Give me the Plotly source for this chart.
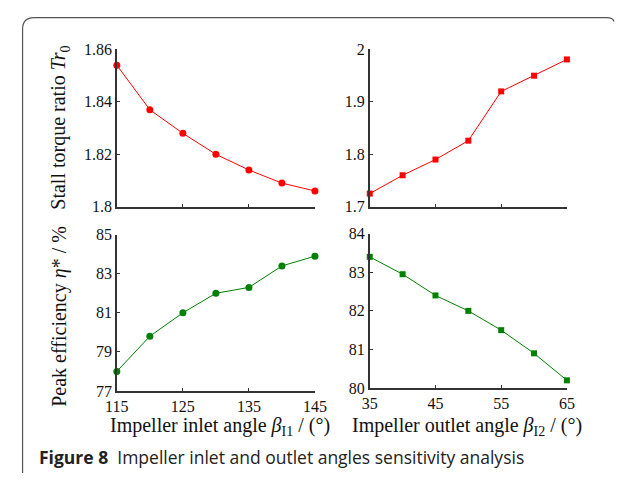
import plotly.graph_objects as go

# ---- data ----
inlet_angle = [115, 120, 125, 130, 135, 140, 145]
outlet_angle = [35, 40, 45, 50, 55, 60, 65]
torque_inlet = [1.854, 1.837, 1.828, 1.820, 1.814, 1.809, 1.806]
torque_outlet = [1.725, 1.760, 1.790, 1.826, 1.920, 1.950, 1.981]
eff_inlet = [78.0, 79.8, 81.0, 82.0, 82.3, 83.4, 83.9]
eff_outlet = [83.4, 82.95, 82.4, 82.0, 81.5, 80.9, 80.2]

inlet_ticks = [115, 125, 135, 145]
outlet_ticks = [35, 45, 55, 65]
torque_inlet_ticks = [1.80, 1.82, 1.84, 1.86]
torque_outlet_ticks = [1.7, 1.8, 1.9, 2.0]
eff_inlet_ticks = [77, 79, 81, 83, 85]
eff_outlet_ticks = [80, 81, 82, 83, 84]

W, H = 627, 480
RED = "#ff0000"
GREEN = "#008000"
SERIF = "Liberation Serif, Times New Roman, serif"


def px(x):
    return x / W


def py(y):
    return 1 - y / H


fig = go.Figure()

fig.add_trace(go.Scatter(x=inlet_angle, y=torque_inlet, mode="lines+markers",
                         line=dict(color=RED, width=1),
                         marker=dict(symbol="circle", size=7, color=RED),
                         cliponaxis=False, xaxis="x", yaxis="y"))
fig.add_trace(go.Scatter(x=outlet_angle, y=torque_outlet, mode="lines+markers",
                         line=dict(color=RED, width=1),
                         marker=dict(symbol="square", size=6, color=RED),
                         cliponaxis=False, xaxis="x2", yaxis="y2"))
fig.add_trace(go.Scatter(x=inlet_angle, y=eff_inlet, mode="lines+markers",
                         line=dict(color=GREEN, width=1),
                         marker=dict(symbol="circle", size=7, color=GREEN),
                         cliponaxis=False, xaxis="x3", yaxis="y3"))
fig.add_trace(go.Scatter(x=outlet_angle, y=eff_outlet, mode="lines+markers",
                         line=dict(color=GREEN, width=1),
                         marker=dict(symbol="square", size=6, color=GREEN),
                         cliponaxis=False, xaxis="x4", yaxis="y4"))

axis_common = dict(showgrid=False, zeroline=False, showline=True,
                   linecolor="#333333", linewidth=1.5, ticks="inside",
                   ticklen=3, tickwidth=1.2, tickcolor="#333333",
                   tickfont=dict(family=SERIF, size=16, color="#111111"),
                   fixedrange=True)

xl = [px(109), px(315)]
xr = [px(372), px(577)]
ytop = [py(206), py(43)]
ybl = [py(397), py(235)]
ybr = [py(394), py(234)]

fig.update_layout(
    width=W, height=H,
    margin=dict(l=0, r=0, t=0, b=0),
    paper_bgcolor="white", plot_bgcolor="white",
    showlegend=False,
    xaxis=dict(axis_common, domain=xl, range=[115, 145], tickvals=inlet_ticks,
               showticklabels=False, anchor="y"),
    yaxis=dict(axis_common, domain=ytop, range=[1.80, 1.86],
               tickvals=torque_inlet_ticks,
               ticktext=["1.8", "1.82", "1.84", "1.86"], anchor="x"),
    xaxis2=dict(axis_common, domain=xr, range=[35, 65], tickvals=outlet_ticks,
                showticklabels=False, anchor="y2"),
    yaxis2=dict(axis_common, domain=ytop, range=[1.7, 2.0],
                tickvals=torque_outlet_ticks,
                ticktext=["1.7", "1.8", "1.9", "2"], anchor="x2"),
    xaxis3=dict(axis_common, domain=xl, range=[115, 145], tickvals=inlet_ticks,
                anchor="y3"),
    yaxis3=dict(axis_common, domain=ybl, range=[77, 85],
                tickvals=eff_inlet_ticks, anchor="x3"),
    xaxis4=dict(axis_common, domain=xr, range=[35, 65], tickvals=outlet_ticks,
                anchor="y4"),
    yaxis4=dict(axis_common, domain=ybr, range=[80, 84],
                tickvals=eff_outlet_ticks, anchor="x4"),
)

title_font = dict(family=SERIF, size=20, color="#111111")
ann = [
    dict(x=px(50), y=py(124), text="Stall torque ratio <i>Tr</i><sub>0</sub>",
         textangle=-90),
    dict(x=px(50), y=py(320), text="Peak efficiency <i>η</i>* / %",
         textangle=-90),
    dict(x=px(216), y=py(434), text="Impeller inlet angle <i>β</i><sub>I1</sub> / (°)"),
    dict(x=px(473), y=py(434), text="Impeller outlet angle <i>β</i><sub>I2</sub> / (°)"),
]
for a in ann:
    fig.add_annotation(xref="paper", yref="paper", showarrow=False,
                       xanchor="center", yanchor="middle", font=title_font, **a)

fig.add_annotation(xref="paper", yref="paper", showarrow=False,
                   x=px(26), y=py(465), xanchor="left", yanchor="middle",
                   text="<b>Figure 8</b>\u00a0\u00a0Impeller inlet and outlet angles sensitivity analysis",
                   font=dict(family="Open Sans", size=17.5, color="#222222"))

# rounded frame
fig.add_shape(type="path", xref="paper", yref="paper",
              path=f"M {px(11)},{py(482)} L {px(11)},{py(22)} Q {px(11)},{py(10)} {px(23)},{py(10)} L {px(618)},{py(10)} Q {px(625)},{py(10)} {px(626)},{py(14)}",
              line=dict(color="#555555", width=1.2))

fig.write_html("out.html")
